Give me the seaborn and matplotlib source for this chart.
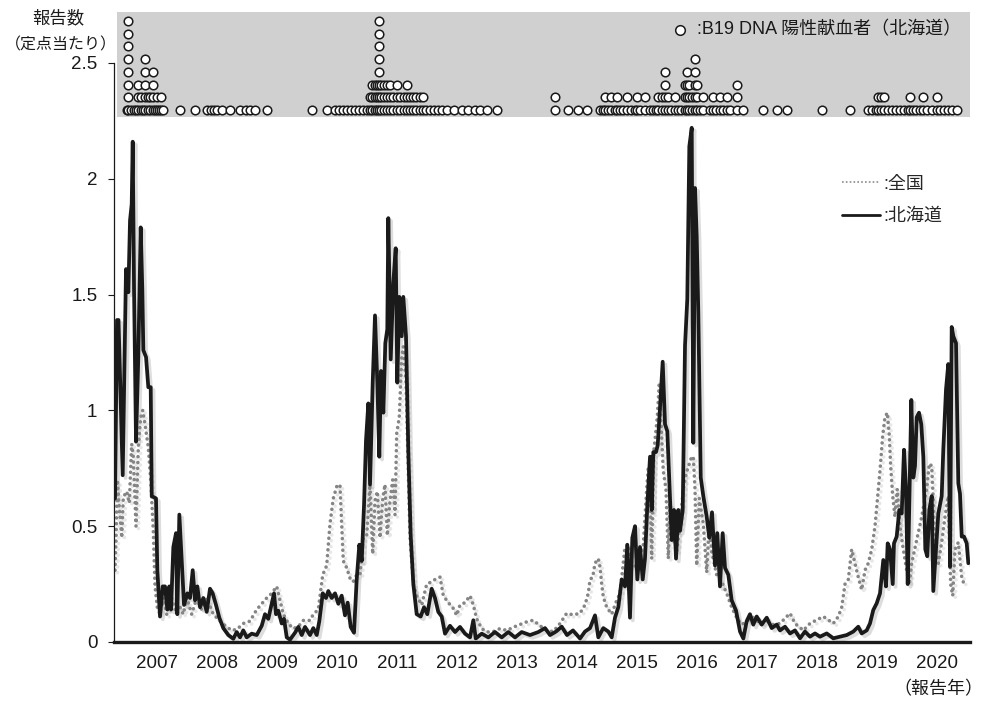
import matplotlib
matplotlib.use("Agg")
import matplotlib.pyplot as plt
import matplotlib.patheffects as pe
from matplotlib.lines import Line2D
import pandas as pd
import seaborn as sns

# ------------------------------
# Data
# ------------------------------

# 北海道: reported cases per sentinel (vertices of the weekly curve)
hokkaido_year = [
    2006.800, 2006.833, 2006.858, 2006.928, 2006.983, 2007.022, 2007.050, 2007.078, 2007.095, 2007.117,
    2007.150, 2007.188, 2007.228, 2007.255, 2007.272, 2007.317, 2007.355, 2007.395, 2007.412, 2007.483,
    2007.505, 2007.550, 2007.595, 2007.633, 2007.672, 2007.705, 2007.733, 2007.772, 2007.817, 2007.838,
    2007.872, 2007.912, 2007.950, 2008.005, 2008.050, 2008.095, 2008.133, 2008.172, 2008.217, 2008.272,
    2008.328, 2008.383, 2008.428, 2008.483, 2008.538, 2008.605, 2008.688, 2008.772, 2008.828, 2008.883,
    2008.938, 2008.995, 2009.078, 2009.162, 2009.245, 2009.300, 2009.355, 2009.412, 2009.450, 2009.483,
    2009.522, 2009.578, 2009.617, 2009.662, 2009.717, 2009.800, 2009.855, 2009.912, 2009.967, 2010.050,
    2010.105, 2010.162, 2010.205, 2010.262, 2010.317, 2010.355, 2010.412, 2010.467, 2010.522, 2010.578,
    2010.633, 2010.678, 2010.728, 2010.783, 2010.828, 2010.872, 2010.912, 2010.950, 2010.983, 2011.022,
    2011.050, 2011.095, 2011.133, 2011.172, 2011.205, 2011.233, 2011.272, 2011.305, 2011.338, 2011.355,
    2011.395, 2011.438, 2011.478, 2011.505, 2011.538, 2011.578, 2011.605, 2011.650, 2011.688, 2011.728,
    2011.772, 2011.828, 2011.895, 2011.950, 2012.005, 2012.078, 2012.133, 2012.188, 2012.245, 2012.300,
    2012.383, 2012.467, 2012.550, 2012.633, 2012.717, 2012.772, 2012.812, 2012.912, 2013.022, 2013.133,
    2013.245, 2013.355, 2013.467, 2013.578, 2013.717, 2013.855, 2013.967, 2014.050, 2014.150, 2014.245,
    2014.333, 2014.433, 2014.550, 2014.633, 2014.717, 2014.800, 2014.855, 2014.938, 2015.022, 2015.078,
    2015.133, 2015.188, 2015.245, 2015.300, 2015.338, 2015.383, 2015.422, 2015.467, 2015.505, 2015.550,
    2015.595, 2015.633, 2015.672, 2015.717, 2015.745, 2015.772, 2015.817, 2015.845, 2015.883, 2015.928,
    2015.967, 2016.005, 2016.050, 2016.078, 2016.117, 2016.150, 2016.188, 2016.217, 2016.262, 2016.300,
    2016.338, 2016.372, 2016.412, 2016.438, 2016.467, 2016.495, 2016.522, 2016.562, 2016.605, 2016.662,
    2016.705, 2016.750, 2016.800, 2016.838, 2016.883, 2016.928, 2016.967, 2017.022, 2017.078, 2017.150,
    2017.217, 2017.272, 2017.328, 2017.383, 2017.438, 2017.495, 2017.578, 2017.662, 2017.745, 2017.828,
    2017.883, 2017.967, 2018.050, 2018.133, 2018.217, 2018.300, 2018.383, 2018.467, 2018.550, 2018.662,
    2018.772, 2018.883, 2018.995, 2019.105, 2019.188, 2019.245, 2019.328, 2019.383, 2019.438, 2019.495,
    2019.550, 2019.605, 2019.650, 2019.678, 2019.717, 2019.762, 2019.783, 2019.828, 2019.872, 2019.912,
    2019.950, 2019.983, 2020.012, 2020.038, 2020.072, 2020.105, 2020.133, 2020.162, 2020.200, 2020.238,
    2020.272, 2020.305, 2020.338, 2020.372, 2020.412, 2020.438, 2020.483, 2020.522, 2020.578, 2020.605,
    2020.650, 2020.688, 2020.717, 2020.745, 2020.772, 2020.817, 2020.855, 2020.883, 2020.912, 2020.950,
    2020.995, 2021.022,
]
hokkaido_val = [
    0.62, 1.39, 1.39, 0.72, 1.61, 1.51, 1.82, 1.89, 2.16, 1.52,
    0.865, 1.23, 1.79, 1.52, 1.26, 1.23, 1.10, 1.10, 0.63, 0.62,
    0.31, 0.11, 0.24, 0.24, 0.14, 0.24, 0.14, 0.41, 0.47, 0.12,
    0.55, 0.35, 0.16, 0.21, 0.19, 0.31, 0.18, 0.24, 0.15, 0.19,
    0.13, 0.23, 0.21, 0.16, 0.105, 0.06, 0.03, 0.014, 0.043, 0.02,
    0.05, 0.02, 0.036, 0.03, 0.07, 0.12, 0.10, 0.165, 0.21, 0.12,
    0.135, 0.08, 0.10, 0.02, 0.01, 0.04, 0.065, 0.03, 0.065, 0.03,
    0.06, 0.03, 0.09, 0.21, 0.19, 0.22, 0.19, 0.21, 0.165, 0.20,
    0.115, 0.17, 0.065, 0.04, 0.27, 0.42, 0.35, 0.59, 0.87, 1.03,
    0.68, 1.12, 1.41, 1.12, 0.80, 1.17, 0.99, 1.29, 1.35, 1.83,
    1.22, 1.55, 1.70, 1.12, 1.49, 1.32, 1.49, 1.32, 0.83, 0.46,
    0.25, 0.12, 0.11, 0.15, 0.12, 0.23, 0.19, 0.13, 0.11, 0.036,
    0.07, 0.043, 0.065, 0.036, 0.02, 0.094, 0.015, 0.036, 0.02, 0.043,
    0.02, 0.043, 0.02, 0.043, 0.03, 0.043, 0.06, 0.03, 0.045, 0.066,
    0.03, 0.05, 0.015, 0.045, 0.06, 0.115, 0.02, 0.06, 0.045, 0.02,
    0.105, 0.15, 0.27, 0.24, 0.42, 0.105, 0.45, 0.50, 0.27, 0.41,
    0.27, 0.36, 0.59, 0.80, 0.57, 0.82, 0.82, 0.85, 1.01, 1.21,
    0.94, 0.91, 0.62, 0.44, 0.57, 0.36, 0.57, 0.48, 0.57, 1.28,
    1.48, 2.14, 2.22, 0.86, 1.96, 1.75, 1.42, 0.71, 0.63, 0.54,
    0.45, 0.56, 0.33, 0.47, 0.24, 0.47, 0.32, 0.29, 0.18, 0.136,
    0.045, 0.015, 0.09, 0.12, 0.075, 0.11, 0.075, 0.105, 0.06, 0.075,
    0.05, 0.066, 0.037, 0.05, 0.016, 0.045, 0.023, 0.037, 0.023, 0.037,
    0.016, 0.023, 0.03, 0.045, 0.066, 0.037, 0.05, 0.08, 0.138, 0.167,
    0.21, 0.354, 0.24, 0.426, 0.40, 0.25, 0.426, 0.455, 0.57, 0.555,
    0.83, 0.66, 0.25, 0.60, 1.045, 0.71, 0.76, 0.97, 0.99, 0.94,
    0.80, 0.40, 0.37, 0.57, 0.63, 0.22, 0.40, 0.555, 0.63, 0.83,
    1.09, 1.20, 0.325, 1.36, 1.32, 1.29, 0.685, 0.64, 0.455, 0.455,
    0.426, 0.34,
]

# 全国: national reported cases per sentinel
zenkoku_year = [
    2006.800, 2006.817, 2006.838, 2006.872, 2006.912, 2006.938, 2006.995, 2007.038, 2007.078, 2007.105,
    2007.150, 2007.188, 2007.228, 2007.262, 2007.300, 2007.355, 2007.395, 2007.438, 2007.467, 2007.505,
    2007.550, 2007.605, 2007.662, 2007.745, 2007.800, 2007.883, 2007.938, 2007.995, 2008.078, 2008.162,
    2008.245, 2008.328, 2008.438, 2008.550, 2008.662, 2008.745, 2008.833, 2008.938, 2009.050, 2009.162,
    2009.245, 2009.328, 2009.412, 2009.495, 2009.550, 2009.605, 2009.688, 2009.767, 2009.850, 2009.938,
    2010.050, 2010.105, 2010.188, 2010.262, 2010.328, 2010.383, 2010.438, 2010.505, 2010.550, 2010.578,
    2010.605, 2010.662, 2010.717, 2010.772, 2010.828, 2010.883, 2010.938, 2010.995, 2011.050, 2011.095,
    2011.133, 2011.172, 2011.217, 2011.262, 2011.300, 2011.338, 2011.383, 2011.428, 2011.467, 2011.495,
    2011.538, 2011.578, 2011.605, 2011.650, 2011.688, 2011.717, 2011.772, 2011.828, 2011.912, 2011.995,
    2012.078, 2012.162, 2012.217, 2012.272, 2012.355, 2012.438, 2012.495, 2012.550, 2012.633, 2012.717,
    2012.772, 2012.828, 2012.912, 2012.995, 2013.105, 2013.217, 2013.328, 2013.495, 2013.662, 2013.772,
    2013.883, 2013.995, 2014.105, 2014.217, 2014.328, 2014.438, 2014.550, 2014.633, 2014.688, 2014.717,
    2014.762, 2014.800, 2014.855, 2014.883, 2014.912, 2014.938, 2014.995, 2015.078, 2015.162, 2015.217,
    2015.300, 2015.355, 2015.412, 2015.483, 2015.550, 2015.605, 2015.662, 2015.688, 2015.717, 2015.745,
    2015.783, 2015.838, 2015.872, 2015.912, 2015.938, 2015.983, 2016.022, 2016.050, 2016.105, 2016.162,
    2016.217, 2016.272, 2016.317, 2016.372, 2016.412, 2016.438, 2016.467, 2016.495, 2016.538, 2016.605,
    2016.662, 2016.705, 2016.745, 2016.828, 2016.912, 2016.995, 2017.078, 2017.162, 2017.245, 2017.333,
    2017.438, 2017.550, 2017.662, 2017.772, 2017.883, 2018.050, 2018.133, 2018.272, 2018.383, 2018.495,
    2018.605, 2018.688, 2018.772, 2018.855, 2018.912, 2018.967, 2019.022, 2019.078, 2019.133, 2019.188,
    2019.245, 2019.300, 2019.355, 2019.412, 2019.467, 2019.505, 2019.550, 2019.595, 2019.633, 2019.672,
    2019.705, 2019.728, 2019.762, 2019.800, 2019.838, 2019.883, 2019.938, 2019.995, 2020.038, 2020.078,
    2020.162, 2020.245, 2020.328, 2020.372, 2020.412, 2020.438, 2020.467, 2020.522, 2020.578, 2020.633,
    2020.688, 2020.728, 2020.762, 2020.800, 2020.855, 2020.912, 2020.950,
]
zenkoku_val = [
    0.31, 0.44, 0.70, 0.58, 0.45, 0.625, 0.65, 0.60, 0.855, 0.80,
    0.50, 0.84, 0.97, 1.00, 0.94, 0.84, 0.70, 0.48, 0.24, 0.15,
    0.12, 0.19, 0.12, 0.19, 0.14, 0.15, 0.12, 0.19, 0.12, 0.19,
    0.14, 0.19, 0.12, 0.09, 0.065, 0.05, 0.055, 0.08, 0.09, 0.14,
    0.165, 0.19, 0.21, 0.24, 0.18, 0.12, 0.08, 0.058, 0.065, 0.093,
    0.093, 0.12, 0.14, 0.29, 0.33, 0.51, 0.62, 0.68, 0.675, 0.51,
    0.35, 0.32, 0.275, 0.26, 0.29, 0.29, 0.45, 0.46, 0.68, 0.38,
    0.61, 0.65, 0.45, 0.62, 0.68, 0.46, 0.61, 0.70, 0.55, 0.90,
    0.97, 1.23, 1.275, 1.12, 0.74, 0.45, 0.25, 0.20, 0.16, 0.25,
    0.26, 0.275, 0.28, 0.20, 0.17, 0.145, 0.115, 0.16, 0.17, 0.20,
    0.16, 0.10, 0.058, 0.043, 0.045, 0.058, 0.05, 0.07, 0.087, 0.094,
    0.07, 0.05, 0.045, 0.08, 0.124, 0.117, 0.124, 0.16, 0.21, 0.27,
    0.28, 0.34, 0.36, 0.325, 0.25, 0.195, 0.15, 0.12, 0.18, 0.21,
    0.41, 0.42, 0.32, 0.33, 0.36, 0.42, 0.66, 0.755, 0.66, 0.36,
    0.83, 0.97, 1.12, 0.88, 0.74, 0.66, 0.36, 0.60, 0.45, 0.39,
    0.51, 0.66, 0.725, 0.77, 0.80, 0.80, 0.66, 0.33, 0.62, 0.51,
    0.30, 0.51, 0.39, 0.29, 0.26, 0.21, 0.15, 0.105, 0.075, 0.09,
    0.105, 0.08, 0.09, 0.075, 0.08, 0.124, 0.08, 0.05, 0.08, 0.095,
    0.11, 0.095, 0.08, 0.11, 0.15, 0.25, 0.27, 0.40, 0.34, 0.28,
    0.225, 0.31, 0.34, 0.40, 0.50, 0.61, 0.74, 0.89, 0.97, 0.99,
    0.89, 0.76, 0.63, 0.54, 0.66, 0.50, 0.40, 0.31, 0.25, 0.34,
    0.44, 0.54, 0.66, 0.77, 0.76, 0.61, 0.40, 0.34, 0.43, 0.54,
    0.63, 0.25, 0.20, 0.40, 0.43, 0.28, 0.25,
]

# B19 DNA 陽性献血者(北海道): week position and number of positive donors
donor_year = [
    2007.000, 2007.017, 2007.067, 2007.117, 2007.150, 2007.183, 2007.233, 2007.267, 2007.300, 2007.350,
    2007.383, 2007.433, 2007.467, 2007.500, 2007.533, 2007.567, 2007.600, 2007.883, 2008.133, 2008.333,
    2008.400, 2008.450, 2008.500, 2008.583, 2008.717, 2008.883, 2008.983, 2009.050, 2009.133, 2009.333,
    2010.083, 2010.333, 2010.467, 2010.533, 2010.600, 2010.667, 2010.733, 2010.800, 2010.867, 2010.933,
    2011.000, 2011.050, 2011.083, 2011.133, 2011.167, 2011.200, 2011.233, 2011.283, 2011.333, 2011.383,
    2011.433, 2011.500, 2011.550, 2011.617, 2011.667, 2011.717, 2011.767, 2011.817, 2011.883, 2011.933,
    2011.983, 2012.050, 2012.117, 2012.183, 2012.250, 2012.333, 2012.450, 2012.583, 2012.683, 2012.800,
    2012.883, 2013.000, 2013.167, 2014.133, 2014.350, 2014.517, 2014.667, 2014.883, 2014.933, 2014.967,
    2015.017, 2015.067, 2015.133, 2015.167, 2015.217, 2015.267, 2015.333, 2015.400, 2015.467, 2015.500,
    2015.550, 2015.633, 2015.717, 2015.767, 2015.817, 2015.850, 2015.917, 2015.967, 2016.017, 2016.067,
    2016.133, 2016.183, 2016.233, 2016.300, 2016.333, 2016.367, 2016.417, 2016.467, 2016.500, 2016.550,
    2016.600, 2016.717, 2016.767, 2016.817, 2016.883, 2016.933, 2017.000, 2017.050, 2017.167, 2017.267,
    2017.600, 2017.833, 2018.000, 2018.583, 2019.050, 2019.350, 2019.417, 2019.483, 2019.517, 2019.567,
    2019.617, 2019.683, 2019.750, 2019.817, 2019.883, 2019.950, 2020.017, 2020.050, 2020.100, 2020.150,
    2020.217, 2020.267, 2020.333, 2020.417, 2020.500, 2020.550, 2020.617, 2020.683, 2020.750, 2020.833,
]
donor_count = [
    1, 8, 1, 1, 1, 3, 2, 1, 5, 2,
    2, 4, 1, 2, 1, 2, 1, 1, 1, 1,
    1, 1, 1, 1, 1, 1, 1, 1, 1, 1,
    1, 1, 1, 1, 1, 1, 1, 1, 1, 1,
    1, 2, 3, 3, 3, 8, 3, 3, 3, 3,
    2, 3, 2, 2, 3, 2, 2, 2, 2, 2,
    1, 1, 1, 1, 1, 1, 1, 1, 1, 1,
    1, 1, 1, 2, 1, 1, 1, 1, 1, 2,
    1, 2, 1, 2, 1, 1, 2, 1, 1, 2,
    1, 2, 1, 1, 1, 2, 2, 4, 2, 1,
    2, 1, 1, 3, 4, 3, 2, 5, 3, 1,
    2, 1, 2, 1, 2, 1, 2, 1, 3, 1,
    1, 1, 1, 1, 1, 1, 1, 1, 2, 2,
    2, 1, 1, 1, 1, 1, 1, 2, 1, 1,
    1, 2, 1, 1, 2, 1, 1, 1, 1, 1,
]

years = list(range(2007, 2021))

# ------------------------------
# Plot
# ------------------------------
sns.set_theme(style="white")
plt.rcParams["font.family"] = ["Liberation Sans", "Noto Sans CJK JP"]
ink = "#1a1a1a"

fig = plt.figure(figsize=(9.84, 7.04), dpi=100)
ax = fig.add_axes([114 / 984, 62 / 704, 856 / 984, 630 / 704])

df_z = pd.DataFrame({"year": zenkoku_year, "val": zenkoku_val})
df_h = pd.DataFrame({"year": hokkaido_year, "val": hokkaido_val})

shadow_z = [pe.SimpleLineShadow(offset=(1.8, -1.8), shadow_color="#b0b0b0", alpha=0.3), pe.Normal()]
shadow_h = [pe.SimpleLineShadow(offset=(2.0, -2.0), shadow_color="#909090", alpha=0.3), pe.Normal()]

sns.lineplot(data=df_z, x="year", y="val", ax=ax, estimator=None, sort=False,
             color="#858585", linewidth=2.6, linestyle=(0, (0.01, 1.6)),
             dash_capstyle="round", path_effects=shadow_z, zorder=2)
sns.lineplot(data=df_h, x="year", y="val", ax=ax, estimator=None, sort=False,
             color=ink, linewidth=2.7, solid_joinstyle="round",
             path_effects=shadow_h, zorder=3)

ax.set_xlim(2006.783, 2021.05)
ax.set_ylim(0, 2.72)
ax.set_xlabel("")
ax.set_ylabel("")

ax.set_xticks([y + 0.5 for y in years])
ax.set_xticklabels([str(y) for y in years], fontsize=13.5)
ax.set_yticks([0, 0.5, 1, 1.5, 2, 2.5])
ax.set_yticklabels(["0", "0.5", "1", "1.5", "2", "2.5"], fontsize=13.5)
ax.tick_params(axis="x", length=0, pad=9, colors=ink)
ax.tick_params(axis="y", direction="out", length=4, width=0.8, pad=8, left=True, colors=ink)

for s in ["top", "right"]:
    ax.spines[s].set_visible(False)
ax.spines["left"].set_bounds(0, 2.5)
ax.spines["left"].set_linewidth(0.9)
ax.spines["left"].set_color(ink)
ax.spines["bottom"].set_linewidth(2.4)
ax.spines["bottom"].set_color(ink)
ax.spines["bottom"].set_zorder(4)

# grey band with the positive-donor circles
band = ax.inset_axes([3 / 856, 525 / 630, 853 / 856, 105 / 630])
band.set_facecolor("#d0d0d0")
band.set_xlim(2006.833, 2021.05)
band.set_ylim(0.45, 8.71)
for s in band.spines.values():
    s.set_visible(False)
band.tick_params(left=False, bottom=False, labelleft=False, labelbottom=False)

dx, dy = [], []
for yr, n in zip(donor_year, donor_count):
    for k in range(1, n + 1):
        dx.append(yr)
        dy.append(k)
sns.scatterplot(x=dx, y=dy, ax=band, s=38, color="white", edgecolor=ink,
                linewidth=1.1, zorder=3, legend=False)

band.scatter([0.660], [0.83], transform=band.transAxes, s=48, facecolor="white",
             edgecolor=ink, linewidth=1.1, zorder=4)
band.text(0.680, 0.83, ":B19 DNA 陽性献血者（北海道）", transform=band.transAxes,
          ha="left", va="center", fontsize=13, color=ink)

# legend for the two curves
handles = [Line2D([], [], color="#8a8a8a", linewidth=1.2, linestyle=(0, (1, 1.3))),
           Line2D([], [], color=ink, linewidth=2.0)]
ax.legend(handles, [":全国", ":北海道"], loc="upper left", bbox_to_anchor=(0.851, 0.74),
          frameon=False, fontsize=13, handlelength=2.1, handletextpad=0.15,
          labelspacing=0.85, borderpad=0, borderaxespad=0)

# axis titles
fig.text(58 / 984, 1 - 18 / 704, "報告数", ha="center", va="center", fontsize=12.5, color=ink)
fig.text(61 / 984, 1 - 45 / 704, "（定点当たり）", ha="center", va="center", fontsize=11.5, color=ink)
fig.text(983 / 984, 1 - 690 / 704, "（報告年）", ha="right", va="center", fontsize=13, color=ink)

fig.savefig("out.png", dpi=100)
